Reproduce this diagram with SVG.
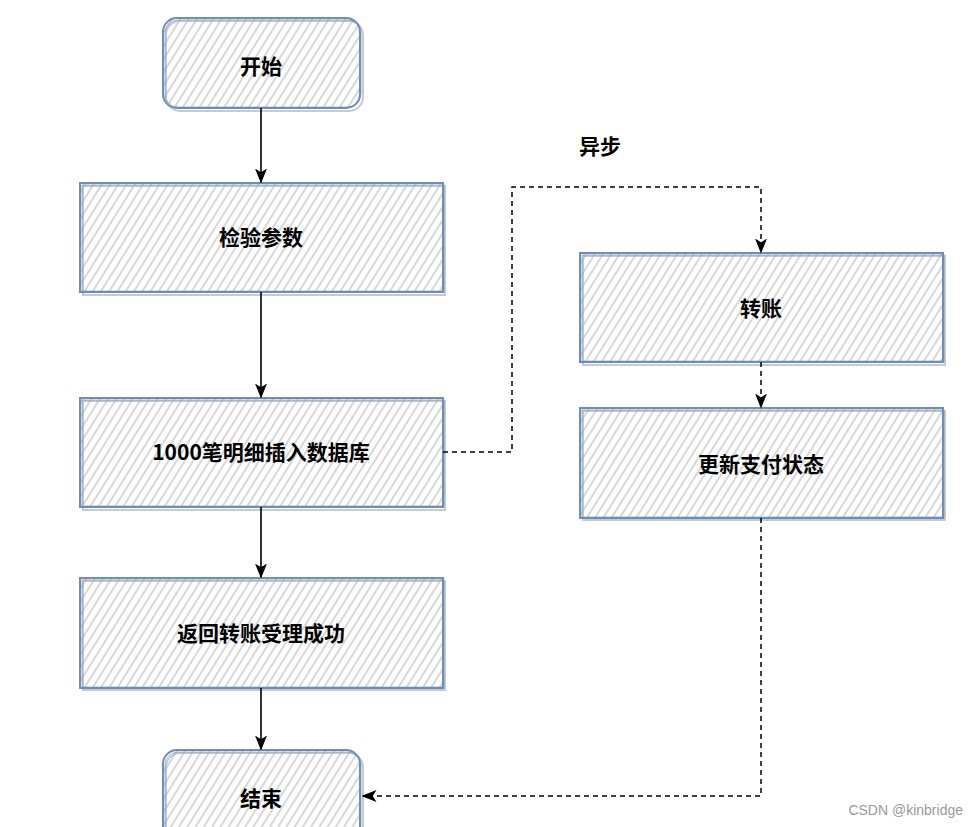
<svg xmlns="http://www.w3.org/2000/svg" width="979" height="827" viewBox="0 0 979 827">
<defs>
<pattern id="hatch" width="7" height="7" patternUnits="userSpaceOnUse" patternTransform="rotate(32)">
<line x1="2" y1="0" x2="2" y2="7" stroke="#b0b0b0" stroke-width="1"/>
</pattern>
<marker id="arrs" viewBox="0 0 10 10" refX="9" refY="5" markerWidth="15" markerHeight="15" markerUnits="userSpaceOnUse" orient="auto">
<path d="M0,1 L10,5 L0,9 L2.5,5 Z" fill="#000"/>
</marker>
</defs>
<style>
.shadow{fill:none;stroke:#c9c9c9;stroke-width:2}
.fill{fill:url(#hatch);stroke:none}
.b1{fill:none;stroke:#6c8ebf;stroke-width:2}
.b2{fill:none;stroke:#6c8ebf;stroke-width:1;opacity:0.6}
.lbl{font-family:"Noto Sans CJK SC","Noto Sans",sans-serif;font-weight:bold;font-size:21px;fill:#000;text-anchor:middle}
.solid{fill:none;stroke:#000;stroke-width:1.6}
.dash{fill:none;stroke:#000;stroke-width:1.5;stroke-dasharray:5 4}
</style>
<rect width="979" height="827" fill="#fff"/>

<g id="start">
<rect class="shadow" x="166" y="21" width="197" height="90" rx="14"/>
<rect class="fill" x="163" y="18" width="198" height="90" rx="14"/>
<rect class="b1" x="163" y="18" width="197" height="90" rx="14"/>
<rect class="b2" x="165" y="20" width="196" height="87" rx="13"/>
<text class="lbl" x="261" y="74">开始</text>
</g>

<g id="check">
<rect class="shadow" x="83" y="186" width="362" height="109"/>
<rect class="fill" x="80" y="183" width="363" height="109"/>
<rect class="b1" x="80" y="183" width="363" height="109"/>
<rect class="b2" x="82" y="185" width="362" height="106"/>
<text class="lbl" x="261" y="245">检验参数</text>
</g>

<g id="insert">
<rect class="shadow" x="83" y="401" width="362" height="109"/>
<rect class="fill" x="80" y="398" width="363" height="109"/>
<rect class="b1" x="80" y="398" width="363" height="109"/>
<rect class="b2" x="82" y="400" width="362" height="106"/>
<text class="lbl" x="261" y="460">1000笔明细插入数据库</text>
</g>

<g id="return">
<rect class="shadow" x="83" y="581" width="362" height="109"/>
<rect class="fill" x="80" y="578" width="363" height="110"/>
<rect class="b1" x="80" y="578" width="363" height="110"/>
<rect class="b2" x="82" y="580" width="362" height="107"/>
<text class="lbl" x="261" y="641">返回转账受理成功</text>
</g>

<g id="end">
<rect class="shadow" x="166" y="753" width="197" height="90" rx="14"/>
<rect class="fill" x="163" y="750" width="198" height="90" rx="14"/>
<rect class="b1" x="163" y="750" width="197" height="90" rx="14"/>
<rect class="b2" x="165" y="752" width="196" height="87" rx="13"/>
<text class="lbl" x="261" y="806">结束</text>
</g>

<g id="transfer">
<rect class="shadow" x="583" y="256" width="362" height="109"/>
<rect class="fill" x="580" y="253" width="363" height="109"/>
<rect class="b1" x="580" y="253" width="363" height="109"/>
<rect class="b2" x="582" y="255" width="362" height="106"/>
<text class="lbl" x="761" y="316">转账</text>
</g>

<g id="update">
<rect class="shadow" x="583" y="411" width="362" height="109"/>
<rect class="fill" x="580" y="408" width="363" height="110"/>
<rect class="b1" x="580" y="408" width="363" height="110"/>
<rect class="b2" x="582" y="410" width="362" height="107"/>
<text class="lbl" x="761" y="472">更新支付状态</text>
</g>

<text class="lbl" x="600" y="154">异步</text>

<g id="connectors">
<path class="solid" d="M261,108 L261,182" marker-end="url(#arrs)"/>
<path class="solid" d="M261,292 L261,397" marker-end="url(#arrs)"/>
<path class="solid" d="M261,507 L261,577" marker-end="url(#arrs)"/>
<path class="solid" d="M261,688 L261,749" marker-end="url(#arrs)"/>
<path class="dash" d="M443,452 L512,452 L512,187 L761,187 L761,252" marker-end="url(#arrs)"/>
<path class="dash" d="M761,362 L761,407" marker-end="url(#arrs)"/>
<path class="dash" d="M761,518 L761,796 L363,796" marker-end="url(#arrs)"/>
</g>

<text x="963" y="815" font-family="Liberation Sans, Arial, sans-serif" font-size="14" fill="#999" text-anchor="end">CSDN @kinbridge</text>
</svg>
